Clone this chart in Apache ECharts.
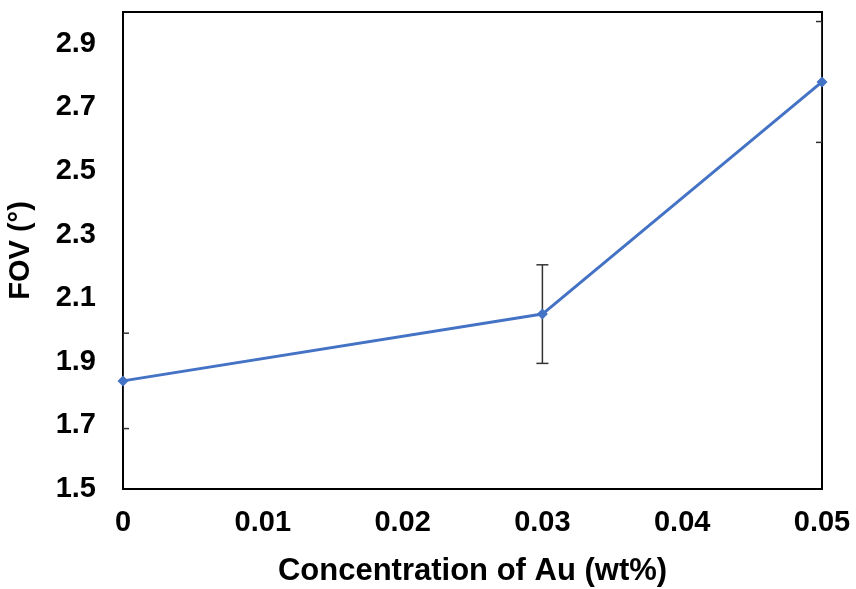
<!DOCTYPE html>
<html>
<head>
<meta charset="utf-8">
<script src="https://cdn.jsdelivr.net/npm/echarts@6/dist/echarts.min.js"></script>
<style>
html,body{margin:0;padding:0;background:#fff;}
#chart{width:856px;height:589px;}
</style>
</head>
<body>
<div id="chart"></div>
<script>
var concentrations = [0, 0.03, 0.05];
var fovValues = [1.84, 2.05, 2.78];
var fovErrors = [0.15, 0.155, 0.19];
var xTitle = 'Concentration of Au (wt%)';
var yTitle = 'FOV (°)';

var FONT = "'Liberation Sans', Arial, sans-serif";
var lineData = concentrations.map(function (c, i) { return [c, fovValues[i]]; });
var errData = concentrations.map(function (c, i) { return [c, fovValues[i] - fovErrors[i], fovValues[i] + fovErrors[i]]; });

var chart = echarts.init(document.getElementById('chart'));
chart.setOption({
  animation: false,
  backgroundColor: '#fff',
  grid: { left: 123, right: 34, top: 12, bottom: 100, containLabel: false, outerBoundsMode: 'none',
          show: true, borderColor: '#000', borderWidth: 2, backgroundColor: 'transparent' },
  xAxis: {
    type: 'value', min: 0, max: 0.05, interval: 0.01,
    axisLine: { show: true, lineStyle: { color: '#000', width: 2 } },
    axisTick: { show: false },
    splitLine: { show: false },
    axisLabel: {
      margin: 19, color: '#000', fontFamily: FONT, fontWeight: 'bold', fontSize: 29,
      formatter: function (v) { return v === 0 ? '0' : v.toFixed(2); }
    },
    name: xTitle, nameLocation: 'middle', nameGap: 67,
    nameTextStyle: { color: '#000', fontFamily: FONT, fontWeight: 'bold', fontSize: 31 }
  },
  yAxis: {
    type: 'value', min: 1.5, max: 3.0, interval: 0.2,
    axisLine: { show: true, lineStyle: { color: '#000', width: 2 } },
    axisTick: { show: false },
    splitLine: { show: false },
    axisLabel: {
      margin: 27, color: '#000', fontFamily: FONT, fontWeight: 'bold', fontSize: 29,
      showMaxLabel: false,
      formatter: function (v) { return Math.abs(v - 3.0) < 1e-6 ? '' : v.toFixed(1); }
    },
    name: yTitle, nameLocation: 'middle', nameGap: 88,
    nameTextStyle: { color: '#000', fontFamily: FONT, fontWeight: 'bold', fontSize: 29 }
  },
  series: [
    {
      type: 'custom',
      clip: true,
      z: 1,
      data: errData,
      renderItem: function (params, api) {
        var x = api.value(0);
        var lo = api.coord([x, api.value(1)]);
        var hi = api.coord([x, api.value(2)]);
        var w = 6;
        var style = { stroke: '#333', lineWidth: 1.5 };
        return {
          type: 'group',
          children: [
            { type: 'line', shape: { x1: lo[0], y1: lo[1], x2: hi[0], y2: hi[1] }, style: style },
            { type: 'line', shape: { x1: lo[0] - w, y1: lo[1], x2: lo[0] + w, y2: lo[1] }, style: style },
            { type: 'line', shape: { x1: hi[0] - w, y1: hi[1], x2: hi[0] + w, y2: hi[1] }, style: style }
          ]
        };
      }
    },
    {
      type: 'line',
      z: 3,
      data: lineData,
      symbol: 'diamond',
      symbolSize: 11,
      lineStyle: { color: '#4472C4', width: 3 },
      itemStyle: { color: '#4472C4' }
    }
  ]
});
</script>
</body>
</html>
